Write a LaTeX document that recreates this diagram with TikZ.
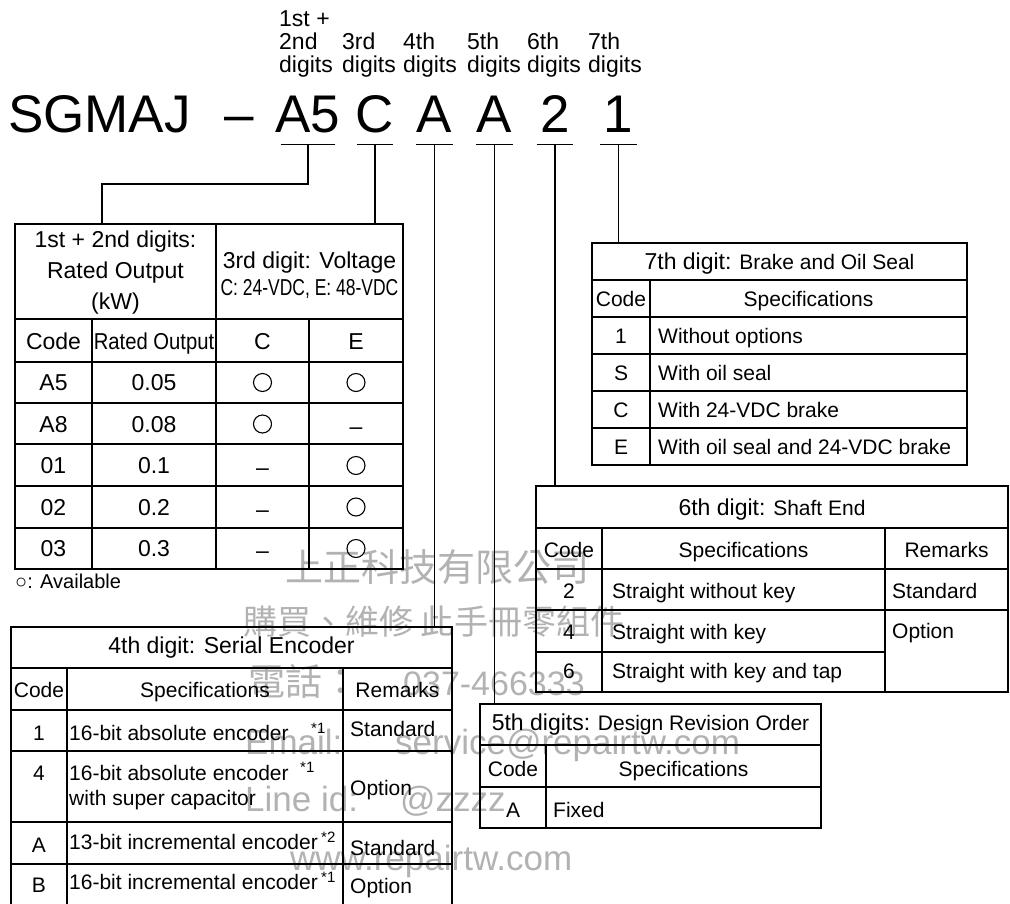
\documentclass[tikz,border=0pt]{standalone}
\usepackage{fontspec}
\usepackage{graphicx}
\setmainfont{Liberation Sans}
\newfontfamily\narrowfont[FakeStretch=0.76]{Liberation Sans}
\newfontfamily\cjkfont{Noto Sans CJK TC}
\newcommand{\pxfont}[1]{\fontsize{#1}{#1}\selectfont}
\begin{document}
\begin{tikzpicture}[x=1pt, y=-1pt,
    tbl/.style={draw, line width=1.2pt, inner sep=0pt, outer sep=0pt},
    cellline/.style={line width=1.2pt},
    conn/.style={line width=1.2pt},
    big/.style={font=\pxfont{53}, inner xsep=0pt, inner ysep=12pt, anchor=base},
    lbl/.style={font=\pxfont{23}, align=left, inner sep=0pt, anchor=south west},
    head/.style={font=\pxfont{23}, inner sep=0pt, anchor=base},
    txt/.style={font=\pxfont{21}, inner sep=0pt, anchor=base},
    lft/.style={txt, anchor=base west},
    star/.style={font=\pxfont{15}, inner sep=0pt, anchor=base west},
    avail/.style={circle, draw, line width=1.1pt, minimum size=18pt, inner sep=0pt},
    wm/.style={text=black!30, inner sep=0pt, anchor=base west}
]
\useasboundingbox (0,0) rectangle (1010,903);

% watermark
\node[wm, font=\cjkfont\pxfont{38}] (w1) at (285,581) {上正科技有限公司};
\node[wm, font=\cjkfont\pxfont{34}] (w2) at (243,634) {購買、維修 此手冊零組件};
\node[wm, font=\cjkfont\pxfont{37}] (w3) at (248,695) {電話：};
\node[wm, font=\pxfont{34}] (w4) at (403,695) {037-466333};
\node[wm, font=\pxfont{35}] (w5) at (245,754) {Email:};
\node[wm, font=\pxfont{35}] (w6) at (395,754) {service@repairtw.com};
\node[wm, font=\pxfont{35}] (w7) at (245,811) {Line id:};
\node[wm, font=\pxfont{35}] (w8) at (400,811) {@zzzz};
\node[wm, font=\pxfont{35}] (w9) at (290,870) {www.repairtw.com};

% 1st + 2nd / 3rd digit table
\node[tbl, minimum width=388pt, minimum height=345pt] (t12) at (209,396.5) {};
\draw[cellline] (15,319) -- (403,319);
\foreach \y in {362,403,444,486,528}
  \draw[cellline] (15,\y) -- (403,\y);
\draw[cellline] (216,224) -- (216,569);
\draw[cellline] (92,319) -- (92,569) (309,319) -- (309,569);
\node[head, anchor=north, align=center, font=\fontsize{23}{31}\selectfont] (h12) at (115.5,231)
  {1st + 2nd digits:\\Rated Output\\(kW)};
\node[head] (h3) at (309.5,268) {3rd digit: Voltage};
\node[head, font=\narrowfont\pxfont{23}] (h3v) at (309.5,295) {C: 24-VDC, E: 48-VDC};
\node[head] (hcode) at (53.5,349) {Code};
\node[head] (hout) at (154,349) {\scalebox{0.88}[1]{Rated Output}};
\node[head] (hc) at (262.5,349) {C};
\node[head] (he) at (356,349) {E};
\foreach \cd/\kw [count=\i] in {A5/0.05, A8/0.08, 01/0.1, 02/0.2, 03/0.3} {
  \node[head] (code\i) at (53.5,349+41.5*\i) {\cd};
  \node[head] (kw\i) at (154,349+41.5*\i) {\kw};
}
\foreach \x/\r [count=\i] in {262.5/1, 356/1, 262.5/2, 356/3, 356/4, 356/5}
  \node[avail] (ok\i) at (\x,341+41.5*\r) {};
\foreach \x/\r [count=\i] in {356/2, 262.5/3, 262.5/4, 262.5/5}
  \node[head] (no\i) at (\x,351+41.5*\r) {–};
\node[lft, font=\pxfont{20}] (note) at (15,588) {○: Available};

% 4th digit table
\node[tbl, minimum width=441pt, minimum height=278pt] (t4) at (231.5,766) {};
\foreach \y in {668,710,751,822,864}
  \draw[cellline] (11,\y) -- (452,\y);
\draw[cellline] (67,668) -- (67,905) (343,668) -- (343,905);
\node[head] (h4) at (231.5,653) {4th digit: Serial Encoder};
\node[txt] (h4c) at (39,697) {Code};
\node[txt] (h4s) at (205,697) {Specifications};
\node[txt] (h4r) at (397.5,697) {Remarks};
\node[txt] (e1) at (39,740) {1};
\node[lft] (e1s) at (69,740) {16-bit absolute encoder};
\node[star] (e1n) at (311,733) {*1};
\node[lft] (e1r) at (350,736) {Standard};
\node[txt] (e4) at (39,780) {4};
\node[lft] (e4s) at (69,780) {16-bit absolute encoder};
\node[star] (e4n) at (300,772) {*1};
\node[lft] (e4t) at (69,805) {with super capacitor};
\node[lft] (e4r) at (350,795) {Option};
\node[txt] (eA) at (39,852) {A};
\node[lft] (eAs) at (69,849) {13-bit incremental encoder};
\node[star] (eAn) at (321,842) {*2};
\node[lft] (eAr) at (350,855) {Standard};
\node[txt] (eB) at (39,892) {B};
\node[lft] (eBs) at (69,889) {16-bit incremental encoder};
\node[star] (eBn) at (321,882) {*1};
\node[lft] (eBr) at (350,893) {Option};

% 5th digit table
\node[tbl, minimum width=341pt, minimum height=124pt] (t5) at (650.5,766) {};
\draw[cellline] (480,745) -- (821,745) (480,787) -- (821,787);
\draw[cellline] (546,745) -- (546,828);
\node[txt] (h5) at (650.5,730) {{\pxfont{23}5th digits:} Design Revision Order};
\node[txt] (h5c) at (513,776) {Code};
\node[txt] (h5s) at (683.5,776) {Specifications};
\node[txt] (r5) at (513,817) {A};
\node[lft] (r5s) at (553,817) {Fixed};

% 6th digit table
\node[tbl, minimum width=472pt, minimum height=206pt] (t6) at (772,589) {};
\foreach \y in {528,569,610}
  \draw[cellline] (536,\y) -- (1008,\y);
\draw[cellline] (536,652) -- (885,652);
\draw[cellline] (602,528) -- (602,692) (885,528) -- (885,692);
\node[txt] (h6) at (772,515) {{\pxfont{23}6th digit:} Shaft End};
\node[txt] (h6c) at (569,557) {Code};
\node[txt] (h6s) at (743.5,557) {Specifications};
\node[txt] (h6r) at (946.5,557) {Remarks};
\node[txt] (s2) at (569,598) {2};
\node[lft] (s2s) at (612,598) {Straight without key};
\node[lft] (s2r) at (892,598) {Standard};
\node[txt] (s4) at (569,639) {4};
\node[lft] (s4s) at (612,639) {Straight with key};
\node[lft] (s4r) at (892,638) {Option};
\node[txt] (s6) at (569,678) {6};
\node[lft] (s6s) at (612,678) {Straight with key and tap};

% 7th digit table
\node[tbl, minimum width=375pt, minimum height=222pt] (t7) at (779.5,354) {};
\foreach \y in {280,317,354,391,428}
  \draw[cellline] (592,\y) -- (967,\y);
\draw[cellline] (650,280) -- (650,465);
\node[txt] (h7) at (779.5,269) {{\pxfont{23}7th digit:} Brake and Oil Seal};
\node[txt] (h7c) at (621,306) {Code};
\node[txt] (h7s) at (808.5,306) {Specifications};
\foreach \cd/\sp [count=\i] in {1/Without options, S/With oil seal, C/With 24-VDC brake,
                                E/With oil seal and 24-VDC brake} {
  \node[txt] (b\i) at (621,306+37*\i) {\cd};
  \node[lft] (b\i s) at (658,306+37*\i) {\sp};
}

% model code and digit labels
\node[lbl] (l12) at (279,77) {1st +\\2nd\\digits};
\node[lbl] (l3) at (342,77) {3rd\\digits};
\node[lbl] (l4) at (403,77) {4th\\digits};
\node[lbl] (l5) at (467,77) {5th\\digits};
\node[lbl] (l6) at (527,77) {6th\\digits};
\node[lbl] (l7) at (588,77) {7th\\digits};
\node[big, anchor=base west] (model) at (8,132) {SGMAJ};
\node[big] (dash) at (239,132) {–};
\node[big] (d12) at (308,132) {A5};
\node[big] (d3) at (375,132) {C};
\node[big] (d4) at (434.5,132) {A};
\node[big] (d5) at (494.5,132) {A};
\node[big] (d6) at (555,132) {2};
\node[big] (d7) at (618.5,132) {1};
\foreach \d/\w in {d12/27, d3/18, d4/18.5, d5/18.5, d6/18, d7/18.5}
  \draw[conn] ([xshift=-\w pt]\d.south) -- ([xshift=\w pt]\d.south);

% connectors
\coordinate (k12) at (102,184);
\draw[conn] (d12.south) |- (k12) -- (k12 |- t12.north);
\draw[conn] (d3.south) -- (d3.south |- t12.north);
\draw[conn] (d4.south) -- (d4.south |- t4.north);
\draw[conn] (d5.south) -- (d5.south |- t5.north);
\draw[conn] (d6.south) -- (d6.south |- t6.north);
\draw[conn] (d7.south) -- (d7.south |- t7.north);
\end{tikzpicture}
\end{document}
